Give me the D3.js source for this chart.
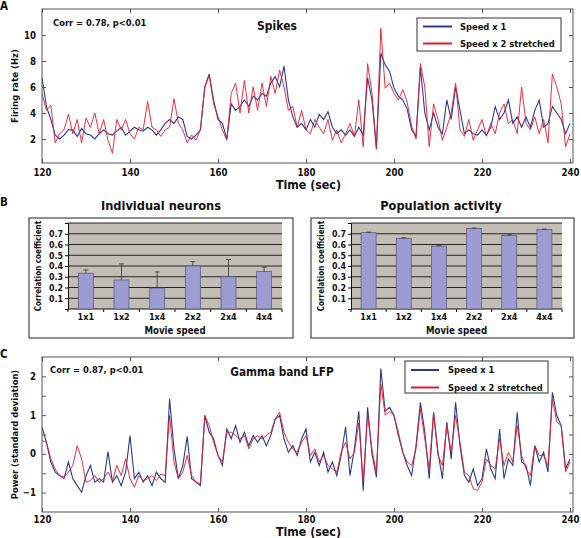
<!DOCTYPE html>
<html><head><meta charset="utf-8">
<script src="https://cdn.jsdelivr.net/npm/d3@7"></script>
<style>
body{margin:0;background:#fff}
text{font-family:"DejaVu Sans Condensed","DejaVu Sans",sans-serif;font-stretch:condensed;font-weight:bold;fill:#111}
</style>
</head><body>
<svg id="chart" width="581" height="538"></svg>
<script>
// ---------- DATA ----------
const timeStart = 120, timeEnd = 240;          // seconds, 1 s samples
const timeTicks = [120, 140, 160, 180, 200, 220, 240];

const spikesSpeed1 = [6.7,4.5,3.5,2.3,2.0,2.3,2.7,2.7,2.2,2.8,2.4,2.3,2.0,2.4,2.7,2.4,2.3,2.6,2.9,2.3,
  2.6,2.9,2.7,2.6,2.9,2.7,2.3,2.7,3.2,3.5,3.2,3.7,3.5,2.2,2.0,2.3,2.7,6.0,7.0,5.0,
  3.5,3.2,2.0,4.7,4.2,4.5,5.0,4.5,5.3,5.0,5.5,5.3,6.3,6.8,6.0,7.6,5.0,3.7,2.9,3.2,
  2.7,3.5,2.9,3.9,3.5,4.1,2.9,2.4,2.7,2.3,2.7,2.2,2.9,2.3,6.7,5.0,1.3,8.6,7.7,7.2,
  5.9,5.3,5.0,4.3,2.7,2.2,7.5,4.0,2.7,4.0,2.9,2.4,5.0,3.5,6.0,4.2,2.4,2.7,2.4,2.3,
  2.7,2.3,2.9,4.5,3.5,4.0,5.0,3.2,3.7,2.9,3.7,2.9,4.2,5.0,2.9,3.2,4.5,4.0,3.5,2.4,3.2];
const spikesSpeed2 = [5.5,4.2,4.6,1.7,2.4,2.7,3.9,2.4,3.5,1.7,3.6,2.9,4.0,2.4,3.5,1.9,0.9,3.5,2.7,3.5,
  2.4,2.0,2.9,2.7,4.9,2.9,2.7,2.2,2.7,2.9,5.1,3.2,2.7,1.7,2.3,1.9,2.7,6.0,6.9,4.7,
  3.7,2.7,1.9,5.5,6.3,4.0,6.5,4.0,6.0,4.2,6.3,4.5,6.8,5.5,7.3,6.0,4.2,4.5,2.9,4.2,
  2.7,2.4,3.5,2.9,2.4,3.5,1.9,2.7,1.7,2.4,3.2,2.2,5.0,1.4,7.8,5.5,1.2,10.5,5.9,6.3,
  5.5,5.0,5.8,4.8,3.0,2.0,7.8,6.0,1.4,4.7,3.5,1.9,2.9,4.0,6.3,2.7,2.2,3.5,1.9,2.7,
  3.5,2.2,3.2,2.4,4.0,4.7,3.2,3.5,2.4,6.0,3.2,2.7,3.7,2.4,3.5,1.7,7.0,6.0,4.7,1.4,2.4];

const lfpSpeed1 = [0.69,0.30,-0.21,-0.47,-0.56,-0.64,-0.21,-0.64,-0.82,-0.99,-0.56,-0.30,-0.73,-0.64,-0.73,0.06,-0.73,-0.56,-0.82,-0.47,
  0.47,-0.64,-0.47,-0.73,-0.56,-0.82,-0.47,-0.64,-0.73,1.42,0.13,-0.64,-0.30,0.45,-0.64,-0.73,-0.82,0.99,0.56,0.39,
  -0.04,-0.30,0.64,0.39,0.73,0.30,0.56,0.21,0.47,0.30,0.47,0.21,0.47,0.90,0.99,0.39,0.04,0.21,-0.04,0.39,
  0.64,-0.21,0.04,-0.30,0.04,-0.47,-0.21,-0.56,-0.04,0.70,-0.56,0.13,1.10,-0.95,1.20,0.00,-0.60,2.20,1.10,1.20,
  0.99,0.47,0.04,-0.30,-0.56,0.21,1.33,0.56,-0.64,1.07,0.04,-0.64,0.82,-0.13,1.33,0.21,-0.56,-0.73,-0.39,-0.82,
  -0.64,0.13,-0.39,-0.64,0.64,-0.64,-0.13,-0.30,1.07,-0.21,-0.30,-0.82,0.21,-0.21,0.04,-0.47,1.59,0.99,0.73,-0.39,-0.13];
const lfpSpeed2 = [0.34,0.30,-0.13,-0.39,-0.56,-0.60,-0.47,-0.30,0.21,-0.13,-0.73,-0.69,-0.56,-0.73,-0.64,-0.47,-0.69,-0.30,-0.56,-0.13,
  -0.64,-0.86,-0.56,-0.69,-0.64,-0.56,-0.69,-0.52,-0.56,0.99,-0.21,-0.64,-0.47,-0.04,-0.56,-0.73,-0.77,0.99,0.73,0.30,
  -0.04,-0.21,0.56,0.56,0.47,0.39,0.47,0.13,0.39,0.47,0.39,0.47,0.56,0.90,1.07,0.56,0.30,0.13,0.04,0.30,
  0.47,-0.04,0.13,-0.21,-0.04,-0.30,-0.39,-0.47,0.04,0.30,-0.13,0.04,0.80,-0.70,1.00,0.10,-0.50,1.80,1.00,1.10,
  0.99,0.56,0.04,-0.21,-0.30,0.13,1.16,0.39,-0.39,1.07,-0.04,-0.30,0.73,0.04,0.99,0.30,-0.47,-0.56,-0.90,-0.94,
  -0.73,-0.13,-0.30,-0.39,0.39,-0.30,0.04,-0.21,0.73,-0.04,-0.39,-0.56,0.21,-0.04,-0.04,-0.30,1.42,0.82,0.73,-0.47,-0.21];

const speedCats = ["1x1","1x2","1x4","2x2","2x4","4x4"];
const neuronCorr = [0.333,0.27,0.195,0.40,0.30,0.35];
const neuronErr  = [0.03,0.15,0.15,0.04,0.16,0.04];
const popCorr    = [0.71,0.655,0.585,0.75,0.685,0.74];
const popErr     = [0.005,0.008,0.003,0.003,0.005,0.003];
const corrTicks  = [0.1,0.2,0.3,0.4,0.5,0.6,0.7];
const corrGrid   = [0.1,0.2,0.3,0.4,0.5,0.6,0.7,0.8];

const spikeTicks = [2,4,6,8,10];
const lfpTicks = [-1,-0.5,0,0.5,1,1.5,2];
const lfpLabels = [-1,0,1,2];
const legendLabels = ["Speed x 1","Speed x 2 stretched"];

// ---------- STYLE ----------
const BLUE = "#2a3b8c", RED = "#e8192e", FRAME = "#555";
const svg = d3.select("#chart");
const times = d3.range(timeStart, timeEnd + 1);

function linePanel(o) {
  const g = svg.append("g");
  const x = d3.scaleLinear().domain([timeStart, timeEnd]).range([o.left, o.xEnd]);
  const y = d3.scaleLinear().domain(o.yDomain).range([o.bottom, o.top]);
  const cid = "clip" + o.id;
  svg.append("clipPath").attr("id", cid).append("rect")
    .attr("x", o.left).attr("y", o.top).attr("width", o.right - o.left).attr("height", o.bottom - o.top);

  const line = d3.line().x((d, i) => x(times[i])).y(d => y(d));
  const lg = g.append("g").attr("clip-path", `url(#${cid})`);
  lg.append("path").datum(o.s1).attr("d", line).attr("fill", "none").attr("stroke", BLUE).attr("stroke-width", 1.1);
  lg.append("path").datum(o.s2).attr("d", line).attr("fill", "none").attr("stroke", RED).attr("stroke-width", 1.0).attr("stroke-opacity", 0.9);

  // axes (inward ticks)
  const fmtY = d => o.yLabels.includes(d) ? d3.format("d")(d) : "";
  const axB = g.append("g").attr("transform", `translate(0,${o.bottom})`)
    .call(d3.axisBottom(x).tickValues(timeTicks).tickSizeInner(-4).tickSizeOuter(0).tickPadding(o.xPad));
  const axT = g.append("g").attr("transform", `translate(0,${o.top})`)
    .call(d3.axisTop(x).tickValues(timeTicks).tickSizeInner(-4).tickSizeOuter(0).tickFormat(""));
  const axL = g.append("g").attr("transform", `translate(${o.left},0)`)
    .call(d3.axisLeft(y).tickValues(o.yTicks).tickSizeInner(-4).tickSizeOuter(0).tickPadding(6).tickFormat(fmtY));
  const axR = g.append("g").attr("transform", `translate(${o.right},0)`)
    .call(d3.axisRight(y).tickValues(o.yTicks).tickSizeInner(-4).tickSizeOuter(0).tickFormat(""));
  [axB, axT, axL, axR].forEach(a => {
    a.select(".domain").remove();
    a.selectAll("line").attr("stroke", FRAME);
    a.selectAll("text").style("font-size", "9.6px").attr("fill", "#111");
  });
  g.append("rect").attr("x", o.left).attr("y", o.top).attr("width", o.right - o.left).attr("height", o.bottom - o.top)
    .attr("fill", "none").attr("stroke", FRAME).attr("stroke-width", 1);

  // texts
  g.append("text").attr("x", (o.left + o.right) / 2 + 1).attr("y", o.xTitleY).attr("text-anchor", "middle")
    .style("font-size", "12.3px").text("Time (sec)");
  g.append("text").attr("transform", `translate(${o.yTitleX},${(o.top + o.bottom) / 2}) rotate(-90)`)
    .attr("text-anchor", "middle").style("font-size", o.yTitleSize).text(o.yTitle);
  g.append("text").attr("x", o.corrX).attr("y", o.corrY).style("font-size", "9.3px").text(o.corr);
  g.append("text").attr("x", o.titleX).attr("y", o.titleY).attr("text-anchor", "middle")
    .style("font-size", o.titleSize).text(o.title);
  g.append("text").attr("x", 0).attr("y", o.letterY).style("font-size", "11.5px").text(o.letter);

  // legend
  const L = o.legend;
  g.append("rect").attr("x", L.x0).attr("y", L.y0).attr("width", L.x1 - L.x0).attr("height", L.y1 - L.y0)
    .attr("fill", "#fff").attr("stroke", "#333").attr("stroke-width", 1);
  [BLUE, RED].forEach((c, i) => {
    g.append("line").attr("x1", L.lx0).attr("x2", L.lx1).attr("y1", L.ly[i]).attr("y2", L.ly[i])
      .attr("stroke", c).attr("stroke-width", 2);
    g.append("text").attr("x", L.tx).attr("y", L.ty[i]).style("font-size", "9.3px").text(legendLabels[i]);
  });
}

linePanel({id: "A", left: 42, right: 573, xEnd: 570, top: 9, bottom: 163, yDomain: [0.15, 12],
  yTicks: spikeTicks, yLabels: spikeTicks, s1: spikesSpeed1, s2: spikesSpeed2, xPad: 6,
  xTitleY: 189, yTitleX: 18, yTitle: "Firing rate (Hz)", yTitleSize: "9.5px",
  corr: "Corr = 0.78, p<0.01", corrX: 53, corrY: 26, title: "Spikes", titleX: 277, titleY: 30, titleSize: "12px",
  letter: "A", letterY: 10,
  legend: {x0: 417, x1: 561, y0: 18, y1: 51, lx0: 423, lx1: 452, ly: [26.5, 43.5], tx: 460, ty: [29.5, 46.5]}});

linePanel({id: "C", left: 42, right: 573, xEnd: 570, top: 357, bottom: 512, yDomain: [-1.5, 2.5],
  yTicks: lfpTicks, yLabels: lfpLabels, s1: lfpSpeed1, s2: lfpSpeed2, xPad: 4,
  xTitleY: 535.5, yTitleX: 18, yTitle: "Power (standard deviation)", yTitleSize: "9.3px",
  corr: "Corr = 0.87, p<0.01", corrX: 50, corrY: 373, title: "Gamma band LFP", titleX: 282, titleY: 376, titleSize: "11.7px",
  letter: "C", letterY: 358,
  legend: {x0: 405, x1: 548, y0: 361, y1: 393, lx0: 411, lx1: 439, ly: [370, 387.5], tx: 448, ty: [373, 390.5]}});

// ---------- BAR PANELS ----------
function barPanel(o) {
  const g = svg.append("g");
  g.append("rect").attr("x", o.bx0).attr("y", 218).attr("width", o.bx1 - o.bx0).attr("height", 120)
    .attr("fill", "#fff").attr("stroke", "#222").attr("stroke-width", 1);
  const xb = d3.scaleBand().domain(speedCats).range([o.px0, o.px1]);
  const y = d3.scaleLinear().domain([0, 0.8]).range([309, 223]);
  g.append("rect").attr("x", o.px0).attr("y", y(0.8)).attr("width", o.px1 - o.px0).attr("height", y(0) - y(0.8))
    .attr("fill", "#c2beb6");
  g.selectAll(".grid").data(corrGrid).join("line")
    .attr("x1", o.px0).attr("x2", o.px1).attr("y1", d => y(d)).attr("y2", d => y(d))
    .attr("stroke", "#111").attr("stroke-width", 0.9);
  const ya = g.append("g").attr("transform", `translate(${o.px0},0)`)
    .call(d3.axisLeft(y).tickValues(corrTicks.concat([0, 0.8])).tickSize(3).tickPadding(2)
      .tickFormat(d => corrTicks.includes(d) ? d3.format(".1f")(d) : ""));
  ya.select(".domain").attr("stroke", "#111");
  ya.selectAll("line").attr("stroke", "#111");
  ya.selectAll("text").style("font-size", "8.8px").attr("fill", "#111");
  // category axis
  g.append("line").attr("x1", o.px0).attr("x2", o.px1).attr("y1", y(0)).attr("y2", y(0)).attr("stroke", "#111");
  g.selectAll(".ct").data(speedCats.concat(["end"])).join("line")
    .attr("x1", (d, i) => o.px0 + i * xb.bandwidth()).attr("x2", (d, i) => o.px0 + i * xb.bandwidth())
    .attr("y1", y(0)).attr("y2", y(0) + 3).attr("stroke", "#111");
  g.selectAll(".cl").data(speedCats).join("text")
    .attr("x", d => xb(d) + xb.bandwidth() / 2).attr("y", 320).attr("text-anchor", "middle")
    .style("font-size", "9px").text(d => d);
  // bars
  g.selectAll(".bar").data(o.vals).join("rect")
    .attr("x", (d, i) => xb(speedCats[i]) + (xb.bandwidth() - 15) / 2).attr("width", 15)
    .attr("y", d => y(d)).attr("height", d => y(0) - y(d))
    .attr("fill", "#9c9cd2").attr("stroke", "#555577").attr("stroke-width", 0.7);
  // error bars (upper)
  o.vals.forEach((v, i) => {
    const cx = xb(speedCats[i]) + xb.bandwidth() / 2;
    g.append("line").attr("x1", cx).attr("x2", cx).attr("y1", y(v)).attr("y2", y(v + o.errs[i]))
      .attr("stroke", "#333").attr("stroke-width", 0.8);
    g.append("line").attr("x1", cx - 2.5).attr("x2", cx + 2.5).attr("y1", y(v + o.errs[i])).attr("y2", y(v + o.errs[i]))
      .attr("stroke", "#333").attr("stroke-width", 0.8);
  });
  g.append("text").attr("x", (o.px0 + o.px1) / 2).attr("y", 334).attr("text-anchor", "middle")
    .style("font-size", "9.6px").text("Movie speed");
  g.append("text").attr("transform", `translate(${o.ytx},266) rotate(-90)`).attr("text-anchor", "middle")
    .style("font-size", "8px").text("Correlation coefficient");
  g.append("text").attr("x", o.titleX).attr("y", 210).attr("text-anchor", "middle")
    .style("font-size", "12.7px").text(o.title);
}

barPanel({bx0: 29, bx1: 293, px0: 68, px1: 282, vals: neuronCorr, errs: neuronErr, ytx: 41,
  title: "Individual neurons", titleX: 161});
barPanel({bx0: 311, bx1: 574, px0: 351, px1: 562, vals: popCorr, errs: popErr, ytx: 324,
  title: "Population activity", titleX: 441});
svg.append("text").attr("x", 0).attr("y", 206).style("font-size", "11.5px").text("B");
</script>
</body></html>
